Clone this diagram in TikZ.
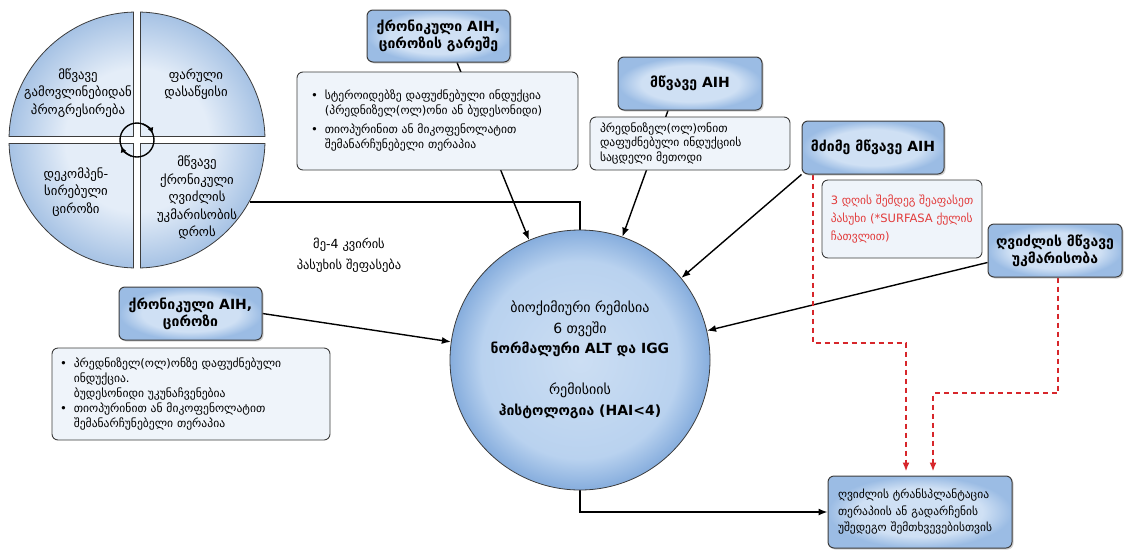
\documentclass[tikz,border=0pt]{standalone}
\usepackage{fontspec}
\setmainfont{DejaVu Sans}
\usetikzlibrary{arrows.meta,shadows,calc}
\pgfdeclarelayer{background}
\pgfsetlayers{background,main}
\definecolor{rimgrey}{HTML}{3C3C3C}
\definecolor{hdlight}{HTML}{CFE0F4}
\definecolor{hddark}{HTML}{9BBCE4}
\definecolor{notefill}{HTML}{EFF4FA}
\definecolor{alerttext}{HTML}{E23B3B}
\definecolor{dashred}{HTML}{D7262B}
\definecolor{qlight}{HTML}{E4EDF8}
\definecolor{qdark}{HTML}{A6C2E4}
\definecolor{clight}{HTML}{CCDEF3}
\definecolor{cmid}{HTML}{B9D2EF}
\definecolor{cdark}{HTML}{86ADDD}
\pgfdeclareradialshading{wheelshade}{\pgfpoint{0bp}{0bp}}{color(0bp)=(qlight); color(14bp)=(qlight); color(25bp)=(qdark); color(50bp)=(qdark)}
\pgfdeclareradialshading{hubshade}{\pgfpoint{0bp}{0bp}}{color(0bp)=(clight); color(19bp)=(cmid); color(25bp)=(cdark); color(50bp)=(cdark)}
\pgfdeclareradialshading{headshade}{\pgfpoint{0bp}{0bp}}{color(0bp)=(hdlight); color(17bp)=(hdlight); color(25bp)=(hddark); color(50bp)=(hddark)}
\tikzset{
  head/.style={draw=rimgrey, line width=1pt, rounded corners=6pt, shading=headshade,
    drop shadow={shadow xshift=1.5pt, shadow yshift=-1.5pt, opacity=0.35},
    font=\fontsize{14}{17}\selectfont\bfseries, align=center, inner sep=0pt},
  note/.style={draw=rimgrey, line width=0.9pt, rounded corners=6pt, fill=notefill,
    font=\fontsize{11.6}{14.5}\selectfont, align=left, inner ysep=0pt},
  quadtext/.style={font=\fontsize{12.8}{17.5}\selectfont, align=center},
  conn/.style={line width=1.4pt, black},
  arr/.style={conn, -{Latex[length=9pt,width=7pt]}},
  redarr/.style={line width=1.9pt, dashred, dash pattern=on 5pt off 4pt,
    -{Latex[length=9pt,width=7pt]}, shorten >=4pt},
}
\begin{document}
\begin{tikzpicture}[x=1pt,y=-1pt]
\useasboundingbox (0,0) rectangle (1126,552);

% four-phase wheel
\begin{scope}[shift={(137,140)}, y=1pt]
  \foreach \r in {0,90,180,270}{
    \begin{scope}[rotate=\r]
      \begin{scope}
        \clip (3.5,3.5) -- (88.43:128) arc[start angle=88.43,end angle=1.57,radius=128] -- cycle;
        \shade[shading=wheelshade] (0,0) circle[radius=128];
      \end{scope}
      \draw[rimgrey, line width=0.8pt] (3.5,3.5) -- (88.43:128) arc[start angle=88.43,end angle=1.57,radius=128] -- cycle;
    \end{scope}
  }
  % clockwise cycle ring
  \draw[line width=1.4pt] (0,0) circle[radius=17];
  \draw[line width=1.4pt, -{Latex[length=6pt,width=6pt]}] (70:17) arc[start angle=70,end angle=22,radius=17];
  \draw[line width=1.4pt, -{Latex[length=6pt,width=6pt]}] (-110:17) arc[start angle=-110,end angle=-158,radius=17];
\end{scope}
\coordinate (wheelout) at (250,202);

\node[quadtext] (q1) at (78,93) {მწვავე\\გამოვლინებიდან\\პროგრესირება};
\node[quadtext] (q2) at (196,84) {ფარული\\დასაწყისი};
\node[quadtext] (q3) at (76,192) {დეკომპენ-\\სირებული\\ციროზი};
\node[quadtext] (q4) at (197,198) {მწვავე\\ქრონიკული\\ღვიძლის\\უკმარისობის\\დროს};

% central remission circle
\node[circle, minimum size=260pt, inner sep=0pt, draw=rimgrey, line width=0.8pt,
      shading=hubshade, align=center, font=\fontsize{14}{20.5}\selectfont] (main) at (580,360)
  {ბიოქიმიური რემისია\\6 თვეში\\\textbf{ნორმალური ALT და IGG}\\[20.5pt]რემისიის\\\textbf{ჰისტოლოგია (HAI<4)}};

% headers
\node[head, minimum width=143pt, minimum height=52pt] (h1) at (438.5,36) {ქრონიკული AIH,\\ციროზის გარეშე};
\node[head, minimum width=144pt, minimum height=53pt] (h2) at (690,83.5) {მწვავე AIH};
\node[head, minimum width=142pt, minimum height=53pt] (h3) at (873,147.5) {მძიმე მწვავე AIH};
\node[head, minimum width=134pt, minimum height=53pt] (h4) at (1055,250.5) {ღვიძლის მწვავე\\უკმარისობა};
\node[head, minimum width=143pt, minimum height=53pt] (h5) at (190.5,313.5) {ქრონიკული AIH,\\ციროზი};

% detail notes
\node[note, minimum height=98pt, inner xsep=14pt, text width=253pt] (d1) at (437.5,121) {%
\begin{tabular}{@{}l@{\hspace{7pt}}l@{}}
\textbullet & სტეროიდებზე დაფუძნებული ინდუქცია\\
 & (პრედნიზელ(ოლ)ონი ან ბუდესონიდი)\\[5pt]
\textbullet & თიოპურინით ან მიკოფენოლატით\\
 & შემანარჩუნებელი თერაპია
\end{tabular}};
\node[note, minimum height=53pt, inner xsep=10pt, text width=180pt] (d2) at (690,143.5)
  {პრედნიზელ(ოლ)ონით\\დაფუძნებული ინდუქციის\\საცდელი მეთოდი};
\node[note, minimum height=78pt, minimum width=160pt, inner xsep=4pt, text=alerttext,
      font=\fontsize{11.5}{18}\selectfont] (d3) at (902,219)
  {3 დღის შემდეგ შეაფასეთ\\პასუხი (*SURFASA ქულის\\ჩათვლით)};
\node[note, minimum height=92pt, inner xsep=8pt, text width=262pt,
      font=\fontsize{11.6}{15}\selectfont] (d5) at (191,394) {%
\begin{tabular}{@{}l@{\hspace{7pt}}l@{}}
\textbullet & პრედნიზელ(ოლ)ონზე დაფუძნებული\\
 & ინდუქცია.\\
 & ბუდესონიდი უკუნაჩვენებია\\
\textbullet & თიოპურინით ან მიკოფენოლატით\\
 & შემანარჩუნებელი თერაპია
\end{tabular}};

% transplant box
\node[head, font=\fontsize{11.5}{16.5}\selectfont, align=left, minimum height=72pt,
      inner xsep=10pt, text width=164pt] (tx) at (920,512)
  {ღვიძლის ტრანსპლანტაცია\\თერაპიის ან გადარჩენის\\უშედეგო შემთხვევებისთვის};

\node[font=\fontsize{12.5}{21}\selectfont, align=center] (wk) at (349,255.5) {მე-4 კვირის\\პასუხის შეფასება};

\coordinate (rb1) at (906,343);
\coordinate (rb2) at (933,393);

\begin{pgfonlayer}{background}
  \draw[arr] ($(h1.south)+(18.5,0)$) -- (main.113);
  \draw[arr] ($(h2.south)+(-22,0)$) -- (main.71);
  \draw[arr] (h3.south west) -- (main.39);
  \draw[arr] ($(h4.west)+(0,12)$) -- (main.13);
  \draw[arr] (h5.east) -- (main.172);
  \draw[conn] (wheelout) -| (main.north);
  \draw[arr] (main.south) |- (tx.west);
  \draw[redarr] ($(h3.south west)+(11.5,0)$) |- (rb1) -- (rb1 |- tx.north);
  \draw[redarr] ($(h4.south)+(3,0)$) |- (rb2) -- (rb2 |- tx.north);
\end{pgfonlayer}
\end{tikzpicture}
\end{document}
